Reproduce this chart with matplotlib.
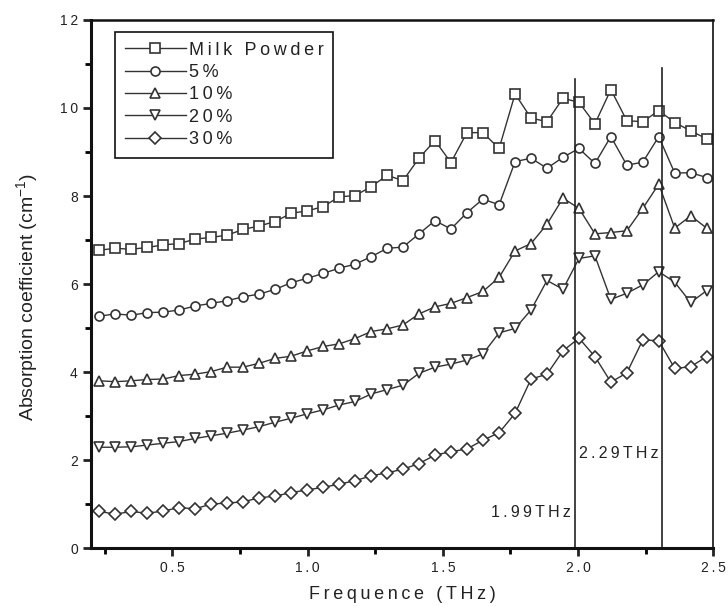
import matplotlib
matplotlib.use("Agg")
import matplotlib.pyplot as plt
from matplotlib.ticker import MultipleLocator

plt.rcParams['font.family'] = ['Liberation Sans', 'DejaVu Sans']
plt.rcParams['mathtext.fontset'] = 'custom'
plt.rcParams['mathtext.rm'] = 'Liberation Sans'

# frequency grid (THz)
freq = [0.231, 0.290, 0.349, 0.408, 0.467, 0.526, 0.585, 0.644, 0.703, 0.762,
        0.822, 0.881, 0.940, 0.999, 1.058, 1.117, 1.176, 1.235, 1.294, 1.353,
        1.412, 1.471, 1.530, 1.589, 1.648, 1.708, 1.767, 1.826, 1.885, 1.944,
        2.003, 2.062, 2.121, 2.180, 2.239, 2.298, 2.357, 2.416, 2.475]

milk = [6.77, 6.81, 6.79, 6.83, 6.89, 6.92, 7.02, 7.06, 7.11, 7.24,
        7.32, 7.42, 7.61, 7.66, 7.76, 7.98, 8.01, 8.21, 8.47, 8.35,
        8.86, 9.26, 8.76, 9.44, 9.44, 9.08, 10.32, 9.77, 9.69, 10.22,
        10.13, 9.64, 10.42, 9.71, 9.69, 9.94, 9.67, 9.48, 9.30]

pct5 = [5.27, 5.32, 5.29, 5.35, 5.36, 5.41, 5.50, 5.56, 5.62, 5.71,
        5.77, 5.88, 6.03, 6.13, 6.24, 6.36, 6.45, 6.62, 6.81, 6.84,
        7.14, 7.44, 7.25, 7.62, 7.93, 7.80, 8.78, 8.86, 8.63, 8.88,
        9.08, 8.74, 9.35, 8.70, 8.77, 9.35, 8.52, 8.53, 8.42]

pct10 = [3.80, 3.78, 3.80, 3.83, 3.84, 3.92, 3.95, 4.01, 4.11, 4.11,
         4.20, 4.31, 4.36, 4.48, 4.58, 4.64, 4.76, 4.92, 4.98, 5.07,
         5.32, 5.48, 5.56, 5.69, 5.83, 6.15, 6.75, 6.92, 7.36, 7.95,
         7.72, 7.14, 7.17, 7.21, 7.72, 8.27, 7.27, 7.55, 7.27]

pct20 = [2.29, 2.29, 2.30, 2.34, 2.38, 2.42, 2.49, 2.55, 2.61, 2.68,
         2.76, 2.86, 2.95, 3.05, 3.14, 3.25, 3.33, 3.50, 3.60, 3.70,
         3.97, 4.11, 4.18, 4.27, 4.41, 4.89, 4.99, 5.41, 6.08, 5.88,
         6.58, 6.64, 5.65, 5.79, 5.98, 6.28, 6.04, 5.58, 5.85]

pct30 = [0.83, 0.77, 0.83, 0.79, 0.84, 0.92, 0.89, 1.00, 1.02, 1.05,
         1.14, 1.18, 1.26, 1.32, 1.38, 1.45, 1.53, 1.64, 1.71, 1.79,
         1.92, 2.11, 2.19, 2.25, 2.45, 2.62, 3.06, 3.84, 3.95, 4.48,
         4.77, 4.35, 3.77, 3.98, 4.73, 4.71, 4.08, 4.12, 4.35]

labels = ["Milk Powder", "5%", "10%", "20%", "30%"]
markers = ["s", "o", "^", "v", "D"]
msizes = [6.5, 6.5, 7.5, 7.5, 6.5]

xticks = [0.5, 1.0, 1.5, 2.0, 2.5]
yticks = [0, 2, 4, 6, 8, 10, 12]

peak_lines = [1.987, 2.309]
peak_tops = [10.65, 10.92]


def spaced(s):
    # the original figure uses letter-spaced text
    return '\u2009'.join(s)


fig = plt.figure(figsize=(7.28, 6.06), dpi=100)
ax = fig.add_axes([0.125, 0.0957, 0.855, 0.8713])

txt_col = '#222222'
line_col = '#333333'
for ys, lab, mk, ms in zip([milk, pct5, pct10, pct20, pct30], labels, markers, msizes):
    ax.plot(freq, ys, color=line_col, lw=1.0, marker=mk, markersize=ms,
            markerfacecolor='white', markeredgecolor=line_col, markeredgewidth=1.2,
            label=spaced(lab))

# peak markers
for xv, top in zip(peak_lines, peak_tops):
    ax.plot([xv, xv], [0, top], color='#222222', lw=1.2)
ax.text(1.972, 0.80, spaced("1.99THz"), ha='right', va='center', fontsize=11.5, color=txt_col)
ax.text(2.296, 2.14, spaced("2.29THz"), ha='right', va='center', fontsize=11.5, color=txt_col)

ax.set_xlim(0.2, 2.5)
ax.set_ylim(0, 12)
ax.xaxis.set_minor_locator(MultipleLocator(0.25))
ax.yaxis.set_minor_locator(MultipleLocator(1))
ax.set_xticks(xticks)
ax.set_xticklabels([spaced(f"{v:.1f}") for v in xticks])
ax.set_yticks(yticks)
ax.set_yticklabels([spaced(str(v)) for v in yticks])
ax.tick_params(which='major', direction='out', length=6, width=2, labelsize=10, colors=txt_col)
ax.tick_params(which='minor', direction='out', length=4, width=2)

for side, w in [('left', 2.2), ('bottom', 2.2), ('top', 1.8), ('right', 1.2)]:
    ax.spines[side].set_linewidth(w)
    ax.spines[side].set_color('#111111')

ax.set_xlabel(spaced("Frequence (THz)"), fontsize=13, color=txt_col, labelpad=8)
ax.set_ylabel("Absorption coefficient (cm$^{-1}$)", fontsize=14, color=txt_col)
ax.yaxis.set_label_coords(-0.08, 0.475)

leg = ax.legend(loc='upper left', bbox_to_anchor=(0.038, 0.978), fontsize=13,
                frameon=True, fancybox=False, edgecolor='#111111', framealpha=1,
                handlelength=3.4, handletextpad=0.15, borderpad=0.55, labelspacing=0.3,
                borderaxespad=0)
leg.get_frame().set_linewidth(1.2)
for t in leg.get_texts():
    t.set_color(txt_col)

fig.savefig("out.png", dpi=100)
